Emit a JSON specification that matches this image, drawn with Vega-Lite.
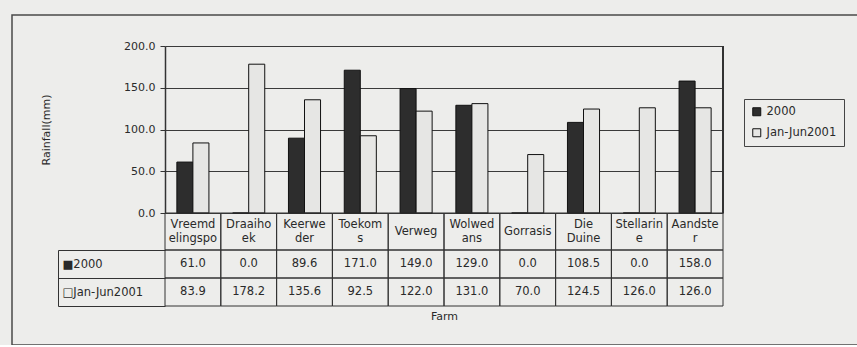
{
  "$schema": "https://vega.github.io/schema/vega-lite/v6.json",
  "width": 850,
  "height": 330,
  "autosize": {"type": "none"},
  "padding": {"left": 12, "top": 15, "right": 0, "bottom": 0},
  "background": "#ededeb",
  "config": {
    "font": "DejaVu Sans",
    "view": {"stroke": "#4a4a4a", "strokeWidth": 1.5},
    "text": {"font": "DejaVu Sans", "fontSize": 11.5, "color": "#2a2a2a"},
    "axis": {"labelFont": "DejaVu Sans", "titleFont": "DejaVu Sans", "labelColor": "#2a2a2a", "titleColor": "#2a2a2a", "titleFontWeight": "normal"},
    "legend": {"labelFont": "DejaVu Sans", "labelColor": "#2a2a2a"}
  },
  "data": {
    "values": [
      {"farm": "Vreemd|elingspo", "series": "2000", "rainfall": 61.0},
      {"farm": "Vreemd|elingspo", "series": "Jan-Jun2001", "rainfall": 83.9},
      {"farm": "Draaiho|ek", "series": "2000", "rainfall": 0.0},
      {"farm": "Draaiho|ek", "series": "Jan-Jun2001", "rainfall": 178.2},
      {"farm": "Keerwe|der", "series": "2000", "rainfall": 89.6},
      {"farm": "Keerwe|der", "series": "Jan-Jun2001", "rainfall": 135.6},
      {"farm": "Toekom|s", "series": "2000", "rainfall": 171.0},
      {"farm": "Toekom|s", "series": "Jan-Jun2001", "rainfall": 92.5},
      {"farm": "Verweg", "series": "2000", "rainfall": 149.0},
      {"farm": "Verweg", "series": "Jan-Jun2001", "rainfall": 122.0},
      {"farm": "Wolwed|ans", "series": "2000", "rainfall": 129.0},
      {"farm": "Wolwed|ans", "series": "Jan-Jun2001", "rainfall": 131.0},
      {"farm": "Gorrasis", "series": "2000", "rainfall": 0.0},
      {"farm": "Gorrasis", "series": "Jan-Jun2001", "rainfall": 70.0},
      {"farm": "Die|Duine", "series": "2000", "rainfall": 108.5},
      {"farm": "Die|Duine", "series": "Jan-Jun2001", "rainfall": 124.5},
      {"farm": "Stellarin|e", "series": "2000", "rainfall": 0.0},
      {"farm": "Stellarin|e", "series": "Jan-Jun2001", "rainfall": 126.0},
      {"farm": "Aandste|r", "series": "2000", "rainfall": 158.0},
      {"farm": "Aandste|r", "series": "Jan-Jun2001", "rainfall": 126.0}
    ]
  },
  "resolve": {"scale": {"y": "independent"}, "axis": {"y": "independent"}},
  "layer": [
    {
      "layer": [
        {
          "mark": {"type": "bar", "stroke": "#111111", "strokeWidth": 1},
          "encoding": {
            "x": {
              "field": "farm", "type": "nominal", "sort": null,
              "scale": {
                "domain": ["Vreemd|elingspo", "Draaiho|ek", "Keerwe|der", "Toekom|s", "Verweg", "Wolwed|ans", "Gorrasis", "Die|Duine", "Stellarin|e", "Aandste|r"],
                "range": [153, 711], "paddingInner": 0, "paddingOuter": 0
              },
              "axis": {"orient": "bottom", "offset": -37, "labels": false, "ticks": false, "domain": false, "grid": false, "title": "Farm", "titleFontSize": 11, "titlePadding": 2}
            },
            "xOffset": {
              "field": "series", "type": "nominal",
              "scale": {"domain": ["2000", "Jan-Jun2001"], "paddingInner": 0, "paddingOuter": 0.74}
            },
            "y": {
              "field": "rainfall", "type": "quantitative",
              "scale": {"domain": [0, 200], "range": [198, 31], "nice": false, "zero": true},
              "axis": {
                "orient": "left", "offset": -153, "values": [0, 50, 100, 150, 200], "format": ".1f",
                "labelFontSize": 11, "tickSize": 5, "tickColor": "#333333", "labelPadding": 5,
                "domain": true, "domainColor": "#333333", "domainWidth": 1.5,
                "grid": true, "gridColor": "#3a3a3a", "gridWidth": 1.2, "gridOpacity": 1,
                "title": "Rainfall(mm)", "titleFontSize": 11, "titlePadding": 72
              }
            },
            "color": {
              "field": "series", "type": "nominal",
              "scale": {"domain": ["2000", "Jan-Jun2001"], "range": ["#2d2d2d", "#e6e6e4"]},
              "legend": {
                "orient": "none", "legendX": 732, "legendY": 84, "title": null,
                "strokeColor": "#444444", "padding": 7, "symbolType": "square", "symbolSize": 64,
                "symbolStrokeColor": "#111111", "symbolStrokeWidth": 1, "labelFontSize": 11.5,
                "rowPadding": 8, "labelOffset": 4
              }
            }
          }
        },
        {
          "mark": {"type": "rule", "color": "#333333", "strokeWidth": 1.5},
          "encoding": {
            "x": {"datum": "Aandste|r", "type": "nominal", "bandPosition": 1},
            "y": {"datum": 0, "type": "quantitative"},
            "y2": {"datum": 200}
          }
        }
      ]
    },
    {
      "transform": [{"filter": "datum.series === '2000'"}],
      "layer": [
        {
          "mark": {"type": "rect", "fill": "transparent", "stroke": "#333333", "strokeWidth": 1},
          "encoding": {
            "x": {"field": "farm", "type": "nominal", "sort": null},
            "y": {"datum": "header", "type": "nominal", "scale": {"domain": ["header"], "range": [198, 235], "paddingInner": 0, "paddingOuter": 0}, "axis": null}
          }
        },
        {
          "transform": [{"filter": "indexof(datum.farm, '|') >= 0"}],
          "mark": {"type": "text", "lineBreak": "|", "lineHeight": 14, "baseline": "middle", "align": "center", "fontSize": 11.5, "dy": -7},
          "encoding": {
            "x": {"field": "farm", "type": "nominal", "sort": null},
            "y": {"datum": "header", "type": "nominal"},
            "text": {"field": "farm"}
          }
        },
        {
          "transform": [{"filter": "indexof(datum.farm, '|') < 0"}],
          "mark": {"type": "text", "baseline": "middle", "align": "center", "fontSize": 11.5},
          "encoding": {
            "x": {"field": "farm", "type": "nominal", "sort": null},
            "y": {"datum": "header", "type": "nominal"},
            "text": {"field": "farm"}
          }
        }
      ]
    },
    {
      "layer": [
        {
          "mark": {"type": "rect", "fill": "transparent", "stroke": "#333333", "strokeWidth": 1},
          "encoding": {
            "x": {"field": "farm", "type": "nominal", "sort": null},
            "y": {
              "field": "series", "type": "nominal",
              "scale": {"domain": ["2000", "Jan-Jun2001"], "range": [235, 291], "paddingInner": 0, "paddingOuter": 0},
              "axis": {
                "orient": "left", "offset": -46, "title": null, "domain": true, "domainColor": "#333333",
                "ticks": true, "tickSize": -107, "tickBand": "extent", "tickColor": "#333333",
                "labelAlign": "left", "labelPadding": 103, "labelFontSize": 11.5, "grid": false,
                "labelExpr": "datum.value === '2000' ? '■2000' : (datum.value === 'Jan-Jun2001' ? '□Jan-Jun2001' : '')"
              }
            }
          }
        },
        {
          "mark": {"type": "text", "baseline": "middle", "align": "center", "fontSize": 11.5},
          "encoding": {
            "x": {"field": "farm", "type": "nominal", "sort": null},
            "y": {"field": "series", "type": "nominal"},
            "text": {"field": "rainfall", "type": "quantitative", "format": ".1f"}
          }
        }
      ]
    }
  ]
}
